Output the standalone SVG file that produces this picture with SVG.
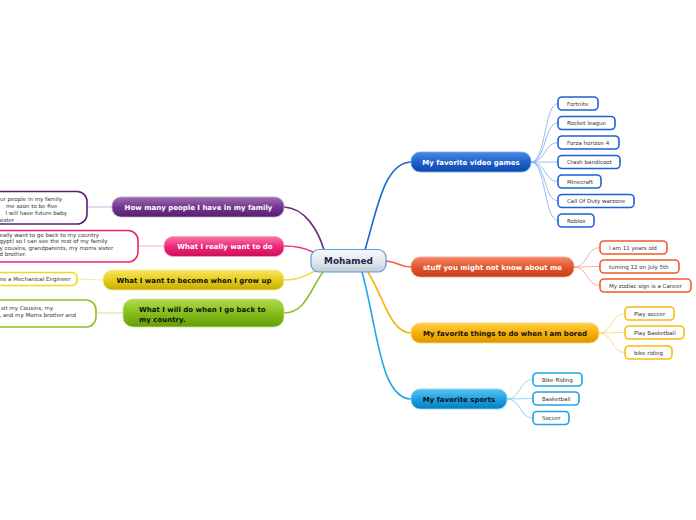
<svg xmlns="http://www.w3.org/2000/svg" width="696" height="520" viewBox="0 0 696 520">
<style>
.main{font-family:"DejaVu Sans",Verdana,sans-serif;font-weight:bold;font-size:7px;text-anchor:middle}
.w{fill:#ffffff}
.k{fill:#111111}
.ct{font-family:"DejaVu Sans",Verdana,sans-serif;font-size:5.5px;fill:#333333}
.cb{fill:#ffffff;stroke-width:1.6}
.sub{fill:none;stroke-width:0.9}
.br{fill:none;stroke-width:1.6}
</style>
<defs>
<linearGradient id="gC" x1="0" y1="0" x2="0" y2="1"><stop offset="0" stop-color="#f7f9fb"/><stop offset="0.5" stop-color="#e4eaf0"/><stop offset="1" stop-color="#c2ccd6"/></linearGradient>
<linearGradient id="gBlue" x1="0" y1="0" x2="0" y2="1"><stop offset="0" stop-color="#4a8ae6"/><stop offset="0.5" stop-color="#1e62cc"/><stop offset="1" stop-color="#0e48a8"/></linearGradient>
<linearGradient id="gRed" x1="0" y1="0" x2="0" y2="1"><stop offset="0" stop-color="#f48a6a"/><stop offset="0.5" stop-color="#e2562e"/><stop offset="1" stop-color="#c43c1a"/></linearGradient>
<linearGradient id="gOr" x1="0" y1="0" x2="0" y2="1"><stop offset="0" stop-color="#ffd04a"/><stop offset="0.5" stop-color="#f5b008"/><stop offset="1" stop-color="#dc9600"/></linearGradient>
<linearGradient id="gCy" x1="0" y1="0" x2="0" y2="1"><stop offset="0" stop-color="#5cc4f2"/><stop offset="0.5" stop-color="#1ea2e2"/><stop offset="1" stop-color="#0a7cbc"/></linearGradient>
<linearGradient id="gPu" x1="0" y1="0" x2="0" y2="1"><stop offset="0" stop-color="#a070b0"/><stop offset="0.5" stop-color="#743690"/><stop offset="1" stop-color="#55206c"/></linearGradient>
<linearGradient id="gPk" x1="0" y1="0" x2="0" y2="1"><stop offset="0" stop-color="#f878a8"/><stop offset="0.5" stop-color="#ee2878"/><stop offset="1" stop-color="#cc0c5a"/></linearGradient>
<linearGradient id="gYe" x1="0" y1="0" x2="0" y2="1"><stop offset="0" stop-color="#f6e660"/><stop offset="0.5" stop-color="#e6cc1c"/><stop offset="1" stop-color="#c6ac00"/></linearGradient>
<linearGradient id="gGr" x1="0" y1="0" x2="0" y2="1"><stop offset="0" stop-color="#b0dc50"/><stop offset="0.5" stop-color="#86be1c"/><stop offset="1" stop-color="#649c0a"/></linearGradient>
</defs>
<rect width="696" height="520" fill="#ffffff"/>

<g id="connectors">
<path class="br" stroke="#1a66d8" d="M365,250 C378,205 385,163 411,162"/>
<path class="br" stroke="#f06040" d="M386,261 C398,262 400,267 411,267"/>
<path class="br" stroke="#f5b400" d="M368,272 C385,300 390,332 411,333"/>
<path class="br" stroke="#20a8e8" d="M362,272 C378,330 380,398 411,399"/>
<path class="br" stroke="#6a2c80" d="M324,250 C318,230 305,208 284,207"/>
<path class="br" stroke="#f03080" d="M313,252 C305,248 298,246 284,246"/>
<path class="br" stroke="#ece040" d="M315,271 C305,276 298,280 284,280"/>
<path class="br" stroke="#8cc030" d="M323,272 C310,290 305,313 284,313"/>
<g stroke="#8ab4ee">
<path class="sub" d="M531,162 C546,162 544,103.5 558,103.5"/>
<path class="sub" d="M531,162 C546,162 544,123 558,123"/>
<path class="sub" d="M531,162 C546,162 544,142.5 558,142.5"/>
<path class="sub" d="M531,162 C546,162 544,162 558,162"/>
<path class="sub" d="M531,162 C546,162 544,181.5 558,181.5"/>
<path class="sub" d="M531,162 C546,162 544,201 558,201"/>
<path class="sub" d="M531,162 C546,162 544,220.5 558,220.5"/>
</g>
<g stroke="#f8a890">
<path class="sub" d="M574,267 C588,267 586,247.5 600,247.5"/>
<path class="sub" d="M574,267 C588,267 586,266.5 600,266.5"/>
<path class="sub" d="M574,267 C588,267 586,285.5 600,285.5"/>
</g>
<g stroke="#fcd880">
<path class="sub" d="M599,333 C613,333 611,313.5 625,313.5"/>
<path class="sub" d="M599,333 C613,333 611,332.5 625,332.5"/>
<path class="sub" d="M599,333 C613,333 611,352.5 625,352.5"/>
</g>
<g stroke="#80d0f4">
<path class="sub" d="M507,399 C521,399 519,379.5 533,379.5"/>
<path class="sub" d="M507,399 C521,399 519,398.5 533,398.5"/>
<path class="sub" d="M507,399 C521,399 519,418 533,418"/>
</g>
<path class="sub" stroke="#c8a8d8" d="M112,207 L87,207"/>
<path class="sub" stroke="#f8a8c8" d="M164,246 L138,246"/>
<path class="sub" stroke="#f2ea90" d="M103,280 L77,279"/>
<path class="sub" stroke="#c4e490" d="M123,313 L96,313"/>
</g>

<g id="center">
<rect x="311" y="249.5" width="75" height="22.5" rx="8" fill="url(#gC)" stroke="#5a9ad8" stroke-width="1.2"/>
<text x="348.5" y="264.2" font-family="'DejaVu Sans',Verdana,sans-serif" font-weight="bold" font-size="8.9" fill="#1a2848" text-anchor="middle">Mohamed</text>
</g>

<g id="n-videogames">
<rect x="411" y="152" width="120" height="20" rx="9" fill="url(#gBlue)" stroke="#7aaaf0" stroke-width="0.8"/>
<text class="main w" x="471" y="164.5">My favorite video games</text>
</g>
<g id="n-stuff">
<rect x="411" y="257" width="163" height="20" rx="9" fill="url(#gRed)" stroke="#f8a080" stroke-width="0.8"/>
<text class="main w" x="492.5" y="269.5">stuff you might not know about me</text>
</g>
<g id="n-bored">
<rect x="411" y="323" width="188" height="20" rx="9" fill="url(#gOr)" stroke="#ffd870" stroke-width="0.8"/>
<text class="main k" x="505" y="335.5">My favorite things to do when I am bored</text>
</g>
<g id="n-sports">
<rect x="411" y="389" width="96" height="20" rx="9" fill="url(#gCy)" stroke="#80d4f8" stroke-width="0.8"/>
<text class="main k" x="459" y="401.5">My favorite sports</text>
</g>
<g id="n-family">
<rect x="112" y="197" width="172" height="20" rx="9" fill="url(#gPu)" stroke="#c0a0d0" stroke-width="0.8"/>
<text class="main w" x="198.5" y="209.5">How many people I have in my family</text>
</g>
<g id="n-really">
<rect x="164" y="236.5" width="120" height="20" rx="9" fill="url(#gPk)" stroke="#f8a0c8" stroke-width="0.8"/>
<text class="main w" x="225" y="249">What I really want to do</text>
</g>
<g id="n-become">
<rect x="103" y="270" width="181" height="20" rx="9" fill="url(#gYe)" stroke="#f4ec90" stroke-width="0.8"/>
<text class="main k" x="194" y="282.5">What I want to become when I grow up</text>
</g>
<g id="n-goback">
<rect x="123" y="299" width="161" height="28" rx="10" fill="url(#gGr)" stroke="#c4e490" stroke-width="0.8"/>
<text class="main k" x="139" y="312" text-anchor="start" style="text-anchor:start">What I will do when I go back to</text>
<text class="main k" x="139" y="321.5" style="text-anchor:start">my country.</text>
</g>

<g id="c-fortnite"><rect class="cb" stroke="#1a62d4" x="558" y="97" width="40" height="13" rx="4"/><text class="ct" x="567" y="105.5">Fortnite</text></g>
<g id="c-rocket"><rect class="cb" stroke="#1a62d4" x="558" y="116.5" width="57" height="13" rx="4"/><text class="ct" x="567" y="125">Rocket league</text></g>
<g id="c-forza"><rect class="cb" stroke="#1a62d4" x="558" y="136" width="61" height="13" rx="4"/><text class="ct" x="567" y="144.5">Forza horizon 4</text></g>
<g id="c-crash"><rect class="cb" stroke="#1a62d4" x="558" y="155.5" width="62" height="13" rx="4"/><text class="ct" x="567" y="164">Crash bandicoot</text></g>
<g id="c-minecraft"><rect class="cb" stroke="#1a62d4" x="558" y="175" width="43" height="13" rx="4"/><text class="ct" x="567" y="183.5">Minecraft</text></g>
<g id="c-cod"><rect class="cb" stroke="#1a62d4" x="558" y="194.5" width="76" height="13" rx="4"/><text class="ct" x="567" y="203">Call Of Duty warzone</text></g>
<g id="c-roblox"><rect class="cb" stroke="#1a62d4" x="558" y="214" width="36" height="13" rx="4"/><text class="ct" x="567" y="222.5">Roblox</text></g>

<g id="c-age"><rect class="cb" stroke="#f05a30" x="600" y="241" width="67" height="13" rx="4"/><text class="ct" x="609" y="249.5">I am 11 years old</text></g>
<g id="c-turning"><rect class="cb" stroke="#f05a30" x="600" y="260" width="79" height="13" rx="4"/><text class="ct" x="609" y="268.5">turning 12 on July 5th</text></g>
<g id="c-zodiac"><rect class="cb" stroke="#f05a30" x="600" y="279" width="91" height="13" rx="4"/><text class="ct" x="609" y="287.5">My zodiac sign is a Cancer</text></g>

<g id="c-soccer1"><rect class="cb" stroke="#f8bc10" x="625" y="307" width="49" height="13" rx="4"/><text class="ct" x="634" y="315.5">Play soccer</text></g>
<g id="c-basket1"><rect class="cb" stroke="#f8bc10" x="625" y="326" width="59" height="13" rx="4"/><text class="ct" x="634" y="334.5">Play Basketball</text></g>
<g id="c-bike1"><rect class="cb" stroke="#f8bc10" x="625" y="346" width="47" height="13" rx="4"/><text class="ct" x="634" y="354.5">bike riding</text></g>

<g id="c-bike2"><rect class="cb" stroke="#20a4e4" x="533" y="373" width="49" height="13" rx="4"/><text class="ct" x="542" y="381.5">Bike Riding</text></g>
<g id="c-basket2"><rect class="cb" stroke="#20a4e4" x="533" y="392" width="46" height="13" rx="4"/><text class="ct" x="542" y="400.5">Basketball</text></g>
<g id="c-soccer2"><rect class="cb" stroke="#20a4e4" x="533" y="411.5" width="36" height="13" rx="4"/><text class="ct" x="542" y="420">Soccer</text></g>

<g id="c-familytext"><rect class="cb" stroke="#5a2070" x="-30" y="191.5" width="117" height="32.5" rx="10"/>
<text class="ct" x="0" y="201">ur people in my family</text>
<text class="ct" x="6" y="208">me soon to be five</text>
<text class="ct" x="5.5" y="215">I will have future baby</text>
<text class="ct" x="-1" y="222">sister</text></g>
<g id="c-reallytext"><rect class="cb" stroke="#f0207a" x="-30" y="230.5" width="168" height="31.5" rx="10"/>
<text class="ct" x="-0.5" y="236.5">eally want to go back to my country</text>
<text class="ct" x="-0.5" y="243">gypt) so I can see the rest of my family</text>
<text class="ct" x="-0.5" y="249.5">y cousins, grandparents, my moms sister</text>
<text class="ct" x="-0.5" y="256">d brother.</text></g>
<g id="c-becometext"><rect class="cb" stroke="#ecd820" x="-30" y="272.5" width="107" height="13" rx="5"/>
<text class="ct" x="-0.5" y="281">ne a Mechanical Engineer</text></g>
<g id="c-gobacktext"><rect class="cb" stroke="#8cc020" x="-30" y="300" width="126" height="27" rx="10"/>
<text class="ct" x="1" y="310">sit my Cousins, my</text>
<text class="ct" x="-0.5" y="316.5">, and my Moms brother and</text></g>
</svg>
